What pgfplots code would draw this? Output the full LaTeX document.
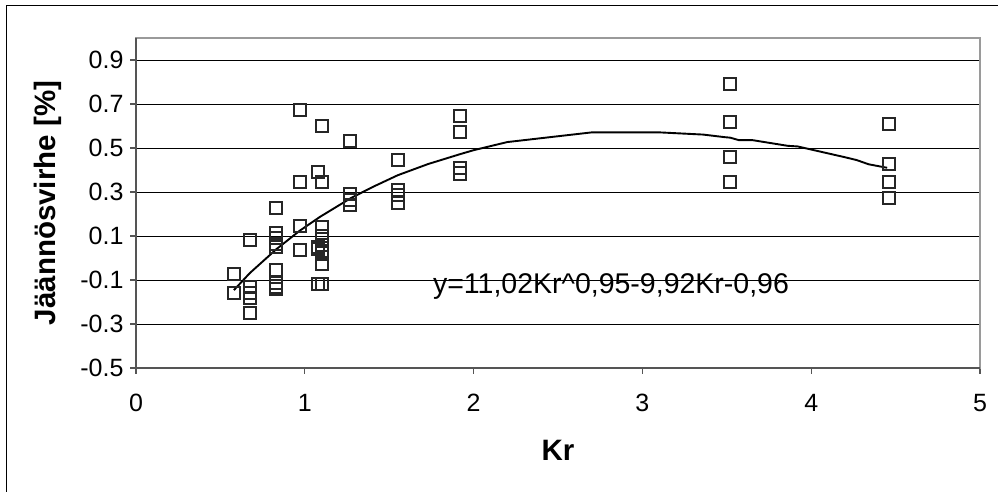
\documentclass[border=0pt]{standalone}
\usepackage{pgfplots}
\pgfplotsset{compat=1.18}
\usepackage{fontspec}
\setmainfont{Liberation Sans}
\definecolor{axdark}{HTML}{555555}
\definecolor{axlight}{HTML}{9A9A9A}
\newcommand{\tfont}{\fontsize{25}{30}\selectfont}
\begin{document}
\begin{tikzpicture}
\path[use as bounding box] (0,0) rectangle (998pt,492pt);
\draw[black, line width=1pt] (6pt,-10pt) rectangle (1010pt,486pt);
\begin{axis}[
  at={(136pt,124pt)}, anchor=south west,
  scale only axis, width=844pt, height=330pt,
  xmin=0, xmax=5, ymin=-0.5, ymax=1.0,
  xtick={0,1,2,3,4,5}, xticklabels={0,1,2,3,4,5},
  ytick={-0.5,-0.3,-0.1,0.1,0.3,0.5,0.7,0.9},
  yticklabels={-0.5,-0.3,-0.1,0.1,0.3,0.5,0.7,0.9},
  hide obscured x ticks=false, hide obscured y ticks=false,
  xtick pos=left, ytick pos=left,
  tick align=outside, major tick length=6pt,
  tick style={axdark, line width=1.3pt},
  axis line style={axlight, line width=1.5pt},
  ymajorgrids, grid style={black, line width=0.8pt},
  every tick label/.append style={font=\tfont},
  yticklabel style={xshift=-3pt, font=\tfont},
  xticklabel style={yshift=-17pt, font=\tfont},
  xlabel={Kr}, ylabel={Jäännösvirhe [\%]},
  label style={font=\fontsize{29.5}{34}\selectfont\bfseries},
  xlabel style={at={(axis description cs:0.5,-0.2485)}, anchor=center},
  ylabel style={at={(axis description cs:-0.1043,0.5)}, anchor=center},
  clip=false,
]
\addplot[only marks, mark=square, mark size=6.1pt, mark options={line width=2pt, draw=black!85, fill=none}] table {
x y
0.58 -0.074
0.58 -0.072
0.58 -0.158
0.675 0.082
0.675 -0.133
0.675 -0.158
0.675 -0.183
0.675 -0.249
0.83 0.226
0.83 0.112
0.83 0.09
0.83 0.065
0.83 0.05
0.83 -0.055
0.83 -0.115
0.83 -0.13
0.83 -0.14
0.97 0.673
0.97 0.344
0.97 0.145
0.97 0.036
1.08 0.391
1.08 0.05
1.08 0.04
1.08 -0.12
1.10 0.60
1.10 0.345
1.10 0.14
1.10 0.10
1.10 0.06
1.10 0.03
1.10 0.02
1.10 -0.027
1.10 -0.12
1.27 0.533
1.27 0.29
1.27 0.264
1.27 0.24
1.55 0.445
1.55 0.307
1.55 0.285
1.55 0.252
1.92 0.645
1.92 0.573
1.92 0.408
1.92 0.384
3.52 0.79
3.52 0.618
3.52 0.46
3.52 0.345
4.46 0.609
4.46 0.427
4.46 0.347
4.46 0.271
};
\addplot[black, line width=1.9pt, mark=none] table {
x y
0.58 -0.146
0.675 -0.068
0.83 0.039
0.97 0.124
1.09 0.187
1.27 0.271
1.40 0.322
1.55 0.376
1.73 0.427
1.92 0.472
2.0 0.490
2.2 0.527
2.7 0.571
3.1 0.571
3.36 0.561
3.49 0.549
3.52 0.547
3.57 0.536
3.65 0.536
3.86 0.510
3.92 0.507
4.2 0.458
4.27 0.445
4.34 0.426
4.45 0.410
};
\draw[axdark, line width=1.5pt] (rel axis cs:0,1) -- (rel axis cs:0,0) -- (rel axis cs:1,0);
\node[anchor=base, font=\fontsize{28.5}{34}\selectfont, inner sep=0pt] at (axis cs:2.814,-0.1605) {y=11,02Kr\textasciicircum 0,95-9,92Kr-0,96};
\end{axis}
\end{tikzpicture}
\end{document}
